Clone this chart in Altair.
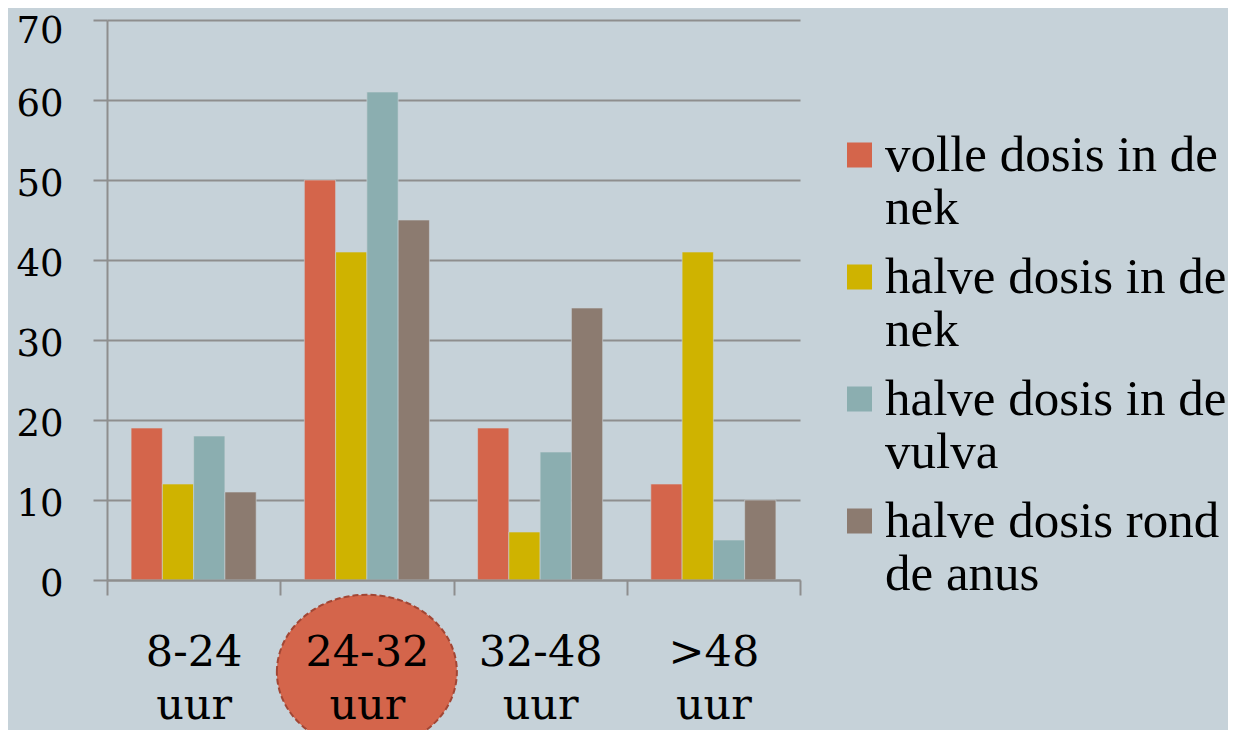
import altair as alt
import pandas as pd

categories = ["8-24 uur", "24-32 uur", "32-48 uur", ">48 uur"]
series = [
    "volle dosis in de nek",
    "halve dosis in de nek",
    "halve dosis in de vulva",
    "halve dosis rond de anus",
]
legend_lines = [
    ["volle dosis in de", "nek"],
    ["halve dosis in de", "nek"],
    ["halve dosis in de", "vulva"],
    ["halve dosis rond", "de anus"],
]
volle_nek = [19, 50, 19, 12]
halve_nek = [12, 41, 6, 41]
halve_vulva = [18, 61, 16, 5]
halve_anus = [11, 45, 34, 10]
colors = ["#D4654B", "#CFB300", "#8BAEB0", "#8C7B70"]
highlight = ["24-32 uur"]
y_ticks = [0, 10, 20, 30, 40, 50, 60, 70]

rows = []
for s, vals in zip(series, [volle_nek, halve_nek, halve_vulva, halve_anus]):
    for c, v in zip(categories, vals):
        rows.append({"categorie": c, "reeks": s, "waarde": v})
df = pd.DataFrame(rows)
hl = pd.DataFrame({"categorie": highlight})

GRAY = "#8E8E8E"
BG = "#C6D2D9"

# legend label expression (two lines per entry)
expr = "datum.label"
for s, lines in reversed(list(zip(series, legend_lines))):
    arr = "[" + ", ".join("'" + l + "'" for l in lines) + "]"
    expr = f"datum.label == '{s}' ? {arr} : ({expr})"

x_scale = alt.Scale(domain=categories, paddingInner=0, paddingOuter=0)

ellipse_path = (
    "M -1.2 0 C -1.2 -0.569 -0.663 -1.03 0 -1.03 "
    "C 0.663 -1.03 1.2 -0.569 1.2 0 "
    "C 1.2 0.569 0.663 1.03 0 1.03 "
    "C -0.663 1.03 -1.2 0.569 -1.2 0 Z"
)

ellipse = alt.Chart(hl).mark_point(
    shape=ellipse_path, filled=True, fill="#D4654B", fillOpacity=1,
    stroke="#A24634", strokeWidth=2, strokeDash=[6, 3], strokeOpacity=1,
    size=22500,
).encode(
    x=alt.X("categorie:N", scale=x_scale, sort=categories,
            axis=alt.Axis(title=None)),
    y=alt.value(652),
)

square_path = "M -1 -2.24 L 1 -2.24 L 1 -0.24 L -1 -0.24 Z"

bars = alt.Chart(df).mark_bar(stroke="#C9D3D8", strokeWidth=0.6).encode(
    x=alt.X(
        "categorie:N", scale=x_scale, sort=categories,
        axis=alt.Axis(
            title=None, labelExpr="split(datum.label, ' ')", labelAngle=0,
            labelAlign="center",
            labelFont="DejaVu Serif", labelFontSize=43, labelLineHeight=53,
            labelColor="black", labelPadding=36, labelBaseline="top",
            tickBand="extent", tickSize=15, tickColor=GRAY, tickWidth=2,
            domainColor=GRAY, domainWidth=2, zindex=1,
        ),
    ),
    xOffset=alt.XOffset("reeks:N", sort=series,
                        scale=alt.Scale(paddingInner=0, paddingOuter=0.77)),
    y=alt.Y(
        "waarde:Q",
        scale=alt.Scale(domain=[0, 70], nice=False),
        axis=alt.Axis(
            title=None, values=y_ticks, grid=True, gridColor=GRAY, gridWidth=2,
            tickSize=14, tickColor=GRAY, tickWidth=2, domainColor=GRAY,
            domainWidth=2, labelFont="DejaVu Serif", labelFontSize=37,
            labelColor="black", labelPadding=30, zindex=0,
            labelOffset={"condition": {"test": "datum.value == 70", "value": 11},
                         "value": 4},
        ),
    ),
    color=alt.Color(
        "reeks:N", sort=series,
        scale=alt.Scale(domain=series, range=colors),
        legend=alt.Legend(
            title=None, orient="none", legendX=727, legendY=125,
            symbolType=square_path, symbolSize=625, symbolStrokeWidth=0,
            symbolOpacity=1, labelFont="Liberation Serif", labelFontSize=51,
            labelBaseline="alphabetic", labelOffset=0, labelLimit=700,
            labelColor="black", rowPadding=17, labelExpr=expr,
        ),
    ),
)

chart = alt.layer(ellipse, bars).properties(
    width=693, height=560,
    autosize=alt.AutoSizeParams(type="none"),
    padding={"left": 99, "top": 12, "right": 428, "bottom": 150},
    background=BG,
).configure_view(stroke=None)

chart.save("out.html", embed_options={"renderer": "svg", "actions": False})
